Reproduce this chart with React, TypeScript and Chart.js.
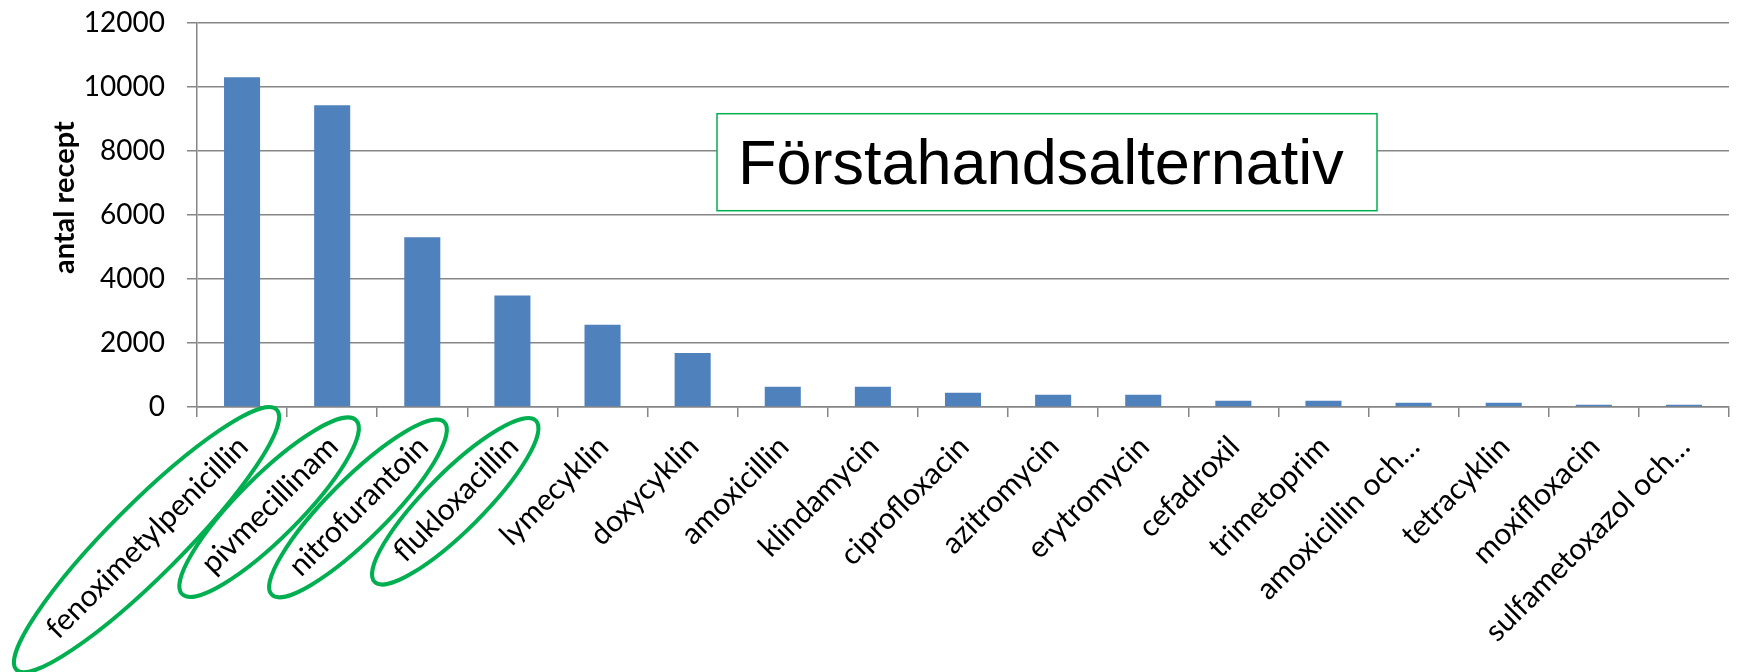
import React, { useEffect, useRef } from "react";
import { Chart, registerables } from "chart.js";

Chart.register(...registerables);

const categories: string[] = [
  "fenoximetylpenicillin",
  "pivmecillinam",
  "nitrofurantoin",
  "flukloxacillin",
  "lymecyklin",
  "doxycyklin",
  "amoxicillin",
  "klindamycin",
  "ciprofloxacin",
  "azitromycin",
  "erytromycin",
  "cefadroxil",
  "trimetoprim",
  "amoxicillin och…",
  "tetracyklin",
  "moxifloxacin",
  "sulfametoxazol och…",
];

const antalRecept: number[] = [
  10300, 9420, 5300, 3480, 2570, 1690, 630, 630, 445, 385, 385, 195, 195, 135, 135, 70, 70,
];

const yTitle = "antal recept";
const boxText = "Förstahandsalternativ";
const circledIndices: number[] = [0, 1, 2, 3];

const GRID = "#868686";
const GREEN = "#00B050";
const Y_TICK_FONT = { family: "Lato", size: 28, lineHeight: 0.05 };
const X_TICK_FONT = { family: "Lato", size: 30 };
const X_TICK_PAD = 12;
const X_LABEL_OFFSET = 1;
const TICK_LEN = 10;

const annotationPlugin = {
  id: "annotations",
  afterDraw(chart: any) {
    const { ctx, chartArea } = chart;
    const xs = chart.scales.x;

    // Y axis title
    ctx.save();
    ctx.translate(65, chartArea.top + 175);
    ctx.rotate(-Math.PI / 2);
    ctx.fillStyle = "#000";
    ctx.font = "bold 29px Lato";
    ctx.textAlign = "center";
    ctx.textBaseline = "middle";
    ctx.fillText(yTitle, 0, 0);
    ctx.restore();

    // Text box
    const bx = chartArea.left + 520;
    const by = chartArea.top + 91;
    const bw = 660;
    const bh = 97;
    ctx.save();
    ctx.fillStyle = "#ffffff";
    ctx.fillRect(bx, by, bw, bh);
    ctx.strokeStyle = GREEN;
    ctx.lineWidth = 1.5;
    ctx.strokeRect(bx, by, bw, bh);
    ctx.fillStyle = "#000";
    ctx.font = "63px 'Liberation Sans', Arial, sans-serif";
    ctx.textBaseline = "alphabetic";
    ctx.textAlign = "left";
    ctx.fillText(boxText, bx + 21, by + 70);
    ctx.restore();

    // Ellipses around first-choice labels
    const majors = [184, 123, 122, 114];
    const minors = [36, 31, 30, 29];
    const lineHeight = X_TICK_FONT.size * 1.2;
    ctx.save();
    ctx.font = `${X_TICK_FONT.size}px ${X_TICK_FONT.family}`;
    circledIndices.forEach((i, k) => {
      const w = ctx.measureText(categories[i]).width;
      const ax = xs.getPixelForTick(i) + X_LABEL_OFFSET;
      const ay = xs.top + TICK_LEN + X_TICK_PAD;
      ctx.save();
      ctx.translate(ax, ay);
      ctx.rotate(-Math.PI / 4);
      ctx.beginPath();
      ctx.ellipse(-w / 2 - 11, lineHeight / 2 - 8, majors[k], minors[k], 0, 0, Math.PI * 2);
      ctx.strokeStyle = GREEN;
      ctx.lineWidth = 4;
      ctx.stroke();
      ctx.restore();
    });
    ctx.restore();
  },
};

export default function App() {
  const canvasRef = useRef<HTMLCanvasElement | null>(null);

  useEffect(() => {
    if (!canvasRef.current) return;
    const chart = new Chart(canvasRef.current, {
      type: "bar",
      data: {
        labels: categories,
        datasets: [
          {
            data: antalRecept,
            backgroundColor: "#4F81BD",
            borderWidth: 0,
            barPercentage: 0.4,
            categoryPercentage: 1.0,
          },
        ],
      },
      options: {
        animation: false,
        responsive: true,
        maintainAspectRatio: false,
        layout: { padding: { left: 0, right: 34, top: 0, bottom: 0 } },
        plugins: { legend: { display: false }, tooltip: { enabled: false } },
        scales: {
          x: {
            offset: true,
            afterFit: (s: any) => {
              s.height = 265;
            },
            grid: {
              display: true,
              offset: true,
              drawOnChartArea: false,
              drawTicks: true,
              tickLength: TICK_LEN,
              color: GRID,
              lineWidth: 1.5,
            },
            border: { display: true, color: GRID, width: 1.5 },
            ticks: {
              autoSkip: false,
              maxRotation: 45,
              minRotation: 45,
              padding: X_TICK_PAD,
              labelOffset: X_LABEL_OFFSET,
              color: "#000",
              font: X_TICK_FONT,
            },
          },
          y: {
            min: 0,
            max: 12000,
            afterFit: (s: any) => {
              s.width = 197;
            },
            ticks: {
              stepSize: 2000,
              padding: 22,
              color: "#000",
              font: Y_TICK_FONT,
              callback: (v: any) => String(v),
            },
            grid: {
              color: GRID,
              lineWidth: 1.5,
              tickLength: TICK_LEN,
            },
            border: { display: true, color: GRID, width: 1.5 },
          },
        },
      },
      plugins: [annotationPlugin],
    });
    return () => chart.destroy();
  }, []);

  return (
    <div style={{ position: "absolute", left: 0, top: 0, width: 1763, height: 672, background: "#fff" }}>
      <canvas ref={canvasRef} />
    </div>
  );
}
